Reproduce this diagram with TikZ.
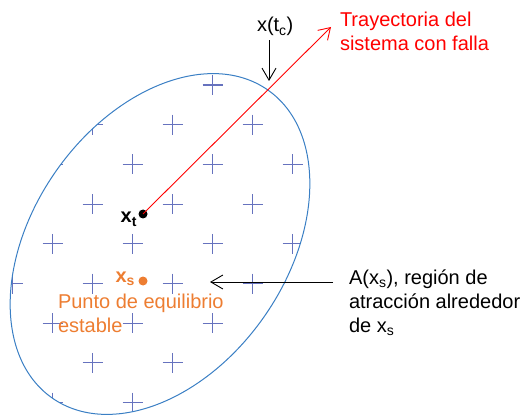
\documentclass[tikz,border=0pt]{standalone}
\usepackage{fontspec}
\setmainfont{Liberation Sans}
\usepackage{tikz}
\usetikzlibrary{arrows.meta, positioning}
\definecolor{regionblue}{HTML}{3A7FC4}
\definecolor{gridblue}{HTML}{6672BE}
\definecolor{eqorange}{HTML}{ED7D31}
\definecolor{faultred}{HTML}{FF0000}

\begin{document}
\begin{tikzpicture}[
    x=1pt, y=-1pt,
    every node/.style={inner sep=0pt, outer sep=0pt},
    txt/.style={font=\fontsize{20}{24}\selectfont, align=left, anchor=base west},
    sym/.style={font=\fontsize{20}{24}\selectfont\bfseries, anchor=base east},
    dot/.style={circle, fill=black, minimum size=9pt, inner sep=0pt},
    plus/.style={draw=gridblue, line width=1.1pt},
    region/.style={draw=regionblue, line width=1pt},
    arrow/.style={-{Straight Barb[length=12pt, width=14pt]}, line width=0.9pt, draw=black},
    traj/.style={-{Straight Barb[length=11pt, width=14pt]}, line width=0.9pt, draw=faultred}
  ]

    % ── Frame: 520 x 417 ──────────────────────────────────────────────────
    \useasboundingbox (0,0) rectangle (520,417);

    % ── Region of attraction (tilted ellipse) with grid of crosses ───────
    \begin{scope}
      \clip[rotate around={55:(160,244)}] (160,244) ellipse [x radius=188pt, y radius=127pt];
      \foreach \i in {0,...,8}
        \foreach \j in {-1,...,10} {
          \pgfmathtruncatemacro\odd{mod(\i+\j+20,2)}
          \ifnum\odd=1
            \draw[plus] ({12.5+40*\i-10},{85+39.7*\j}) -- ({12.5+40*\i+10},{85+39.7*\j})
                        ({12.5+40*\i},{85+39.7*\j-10}) -- ({12.5+40*\i},{85+39.7*\j+10});
          \fi
        }
    \end{scope}
    \draw[region, rotate around={55:(160,244)}] (160,244) ellipse [x radius=188pt, y radius=127pt];

    % ── Points x_t and x_s ────────────────────────────────────────────────
    % (multi-line labels: base west sits on the last line)
    \node[dot] (xt) at (143,214) {};
    \node[dot, fill=eqorange] (xs) at (143,281) {};
    \node[sym] (xtlab) at (137,223) {x\textsubscript{t}};
    \node[sym, text=eqorange] (xslab) at (135,282) {x\textsubscript{s}};
    \node[txt, text=eqorange] (eqlab) at (58,332) {Punto de equilibrio\\estable};

    % ── Fault trajectory ──────────────────────────────────────────────────
    \coordinate (trajend) at (331,27);
    \draw[traj] (xt.center) -- (trajend);
    \node[txt, text=faultred] (trajlab) at (340,51) {Trayectoria del\\sistema con falla};

    % ── Clearing instant x(t_c) ───────────────────────────────────────────
    \node[txt] (tclab) at (257,32) {x(t\textsubscript{c})};
    \coordinate (tcpt) at (269,81);
    \draw[arrow, shorten <=4pt] (tclab.south -| tcpt) -- (tcpt);

    % ── Region label ──────────────────────────────────────────────────────
    \node[txt] (reglab) at (349,332) {A(x\textsubscript{s}), región de\\atracción alrededor\\de x\textsubscript{s}};
    \coordinate (regtail) at (333,282);
    \coordinate (regtip) at (210,282);
    \draw[arrow] (regtail) -- (regtip);

  \end{tikzpicture}
\end{document}
